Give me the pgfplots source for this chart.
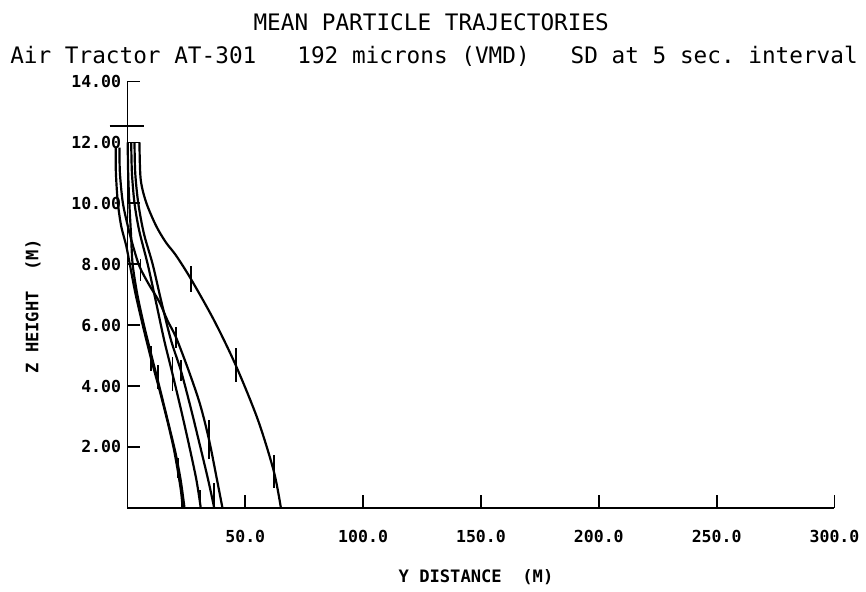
\documentclass[border=0pt]{standalone}
\usepackage{pgfplots}
\pgfplotsset{compat=1.18}
\usepackage{fontspec}
\setmonofont{DejaVu Sans Mono}
\begin{document}
\begin{tikzpicture}
\begin{axis}[
  scale only axis, width=355pt, height=214pt,
  xmin=0, xmax=300, ymin=0, ymax=14,
  clip=false,
  axis lines*=left,
  axis line style={line width=0.9pt},
  tick align=inside,
  major tick length=6.5pt,
  tick style={line width=0.9pt, black},
  xtick={50,100,150,200,250,300},
  xticklabels={50.0,100.0,150.0,200.0,250.0,300.0},
  ytick={2,4,6,8,10,12,14},
  yticklabels={2.00,4.00,6.00,8.00,10.00,12.00,14.00},
  ticklabel style={font=\fontsize{8.3}{10}\selectfont\ttfamily\bfseries},
  xticklabel style={anchor=center, yshift=-14.5pt},
  yticklabel style={anchor=east, inner sep=0pt, xshift=-3pt},
  every axis plot/.append style={black, solid, line width=1.1pt, no markers},
]
% Curve A
\addplot[smooth] coordinates {(5.1,12.0) (5.6,10.8) (7.9,10.04) (12.1,9.27) (16.3,8.72) (20.6,8.29) (26.9,7.52) (36.8,6.15) (45.9,4.69) (55.3,2.9) (62.1,1.2) (65.1,0)};
% Curve B
\addplot[smooth] coordinates {(-3.4,11.83) (-3.2,11) (-2.0,10.04) (0.1,9.27) (2.0,8.7) (5,7.95) (9,7.35) (13.5,6.77) (17,6.15) (20.6,5.6) (26,4.5) (30.8,3.4) (34.6,2.24) (37.8,1.0) (40.3,0)};
% Curve L1
\addplot[smooth] coordinates {(-5.0,11.83) (-4.9,11) (-4.1,10.04) (-2.7,9.27) (-0.5,8.6) (1.0,8.0) (3.5,7.0) (6.8,5.9) (10,4.9) (13.5,3.9) (16.8,2.9) (19.5,2.0) (21.4,1.2) (22.8,0.5) (23.4,0)};
% Curve L2
\addplot[smooth] coordinates {(0.1,12.0) (0.3,11) (0.8,10) (1.5,9.0) (2.2,8.0) (4.2,7.0) (7,6.0) (10.2,5.0) (13.8,3.9) (17.3,2.8) (20.4,1.8) (22.6,0.9) (24.2,0)};
% Curve C
\addplot[smooth] coordinates {(1.6,12.0) (1.9,11) (3.0,10) (5.0,9.1) (8.6,8.0) (12,6.8) (15.6,5.5) (19.1,4.4) (22.8,3.2) (26.3,2.0) (29.3,0.9) (31.1,0)};
% Curve D
\addplot[smooth] coordinates {(3.0,12.0) (3.3,11) (4.6,10) (7.0,9.0) (10.7,8.0) (14.3,6.8) (18.5,5.5) (22.7,4.5) (26.8,3.3) (30.6,2.1) (34.3,0.9) (36.8,0)};
% release height marker
\addplot[black, solid, no markers] coordinates {(-7.6,12.53) (7.2,12.53)};
% SD bars
\addplot[draw=none, no markers, error bars/.cd, y dir=both, y explicit, error mark=none,
  error bar style={draw=black, solid, line width=0.9pt}] coordinates {
  (26.9,7.52) +- (0,0.42)
  (45.9,4.69) +- (0,0.57)
  (62.1,1.2) +- (0,0.54)
  (5.5,7.8) +- (0,0.36)
  (20.6,5.6) +- (0,0.35)
  (10,4.9) +- (0,0.4)
  (12.8,4.3) +- (0,0.4)
  (19.1,4.4) +- (0,0.55)
  (22.7,4.5) +- (0,0.35)
  (34.6,2.24) +- (0,0.65)
  (21.4,1.3) +- (0,0.33)
  (23.2,0.33) +- (0,0.33)
  (30.9,0.35) +- (0,0.25)
  (36.6,0.4) +- (0,0.4)
};
% titles and labels
\node[font=\fontsize{11.4}{13}\selectfont\ttfamily] at (axis cs:128.9,15.96) {MEAN PARTICLE TRAJECTORIES};
\node[font=\fontsize{11.4}{13}\selectfont\ttfamily] at (axis cs:130.1,14.82) {Air~Tractor~AT-301~~~192~microns~(VMD)~~~SD~at~5~sec.~interval};
\node[font=\fontsize{8.6}{10}\selectfont\ttfamily\bfseries, rotate=90] at (axis cs:-40.1,6.61) {Z~HEIGHT~~(M)};
\node[font=\fontsize{8.6}{10}\selectfont\ttfamily\bfseries] at (axis cs:147.9,-2.29) {Y~DISTANCE~~(M)};
\path (axis cs:-54.08,-2.617) rectangle (axis cs:311.83,16.68);
\end{axis}
\end{tikzpicture}
\end{document}
